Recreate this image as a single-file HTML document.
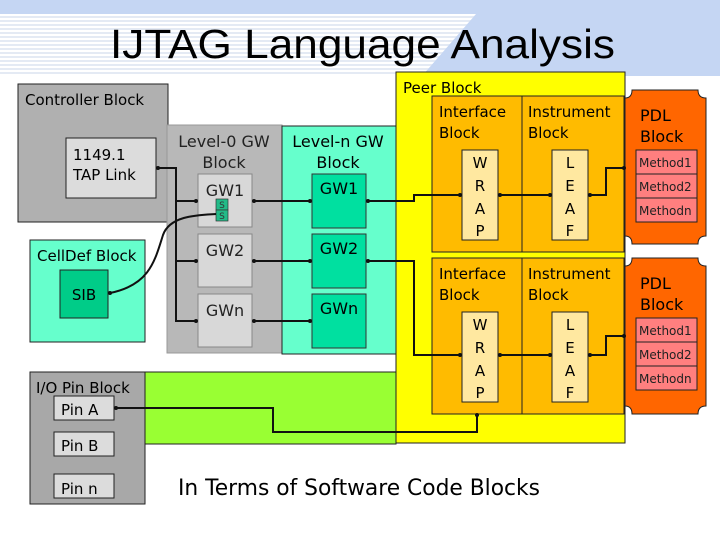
<!DOCTYPE html>
<html><head><meta charset="utf-8"><style>
html,body{margin:0;padding:0;background:#fff}
svg text{font-family:"DejaVu Sans","Liberation Sans",sans-serif}
</style></head><body>
<svg width="720" height="540" viewBox="0 0 720 540" xmlns="http://www.w3.org/2000/svg">
<defs>
<pattern id="st" width="4" height="4" patternUnits="userSpaceOnUse"><rect width="4" height="4" fill="#fff"/><rect width="4" height="2" fill="#e4eaf4"/></pattern>
</defs>
<rect x="0" y="0" width="720" height="76" fill="#c5d6f3"/>
<polygon points="0,14 476,14 422,76 0,76" fill="url(#st)"/>
<text x="110" y="58" font-family="Liberation Sans" font-size="41" style="font-family:'Liberation Sans',sans-serif" textLength="505" lengthAdjust="spacingAndGlyphs">IJTAG Language Analysis</text>

<!-- Controller -->
<rect x="18" y="84" width="150" height="138" fill="#b0b0b0" stroke="#222" stroke-width="1"/>
<text x="25" y="105" font-size="15">Controller Block</text>
<rect x="66" y="138" width="90" height="60" fill="#dcdcdc" stroke="#222"/>
<text x="73" y="160" font-size="15">1149.1</text>
<text x="73" y="180" font-size="15">TAP Link</text>

<!-- Level-0 -->
<rect x="167" y="125" width="115" height="228" fill="#b8b8b8" stroke="#999"/>
<text x="224" y="147" font-size="16" text-anchor="middle" fill="#222">Level-0 GW</text>
<text x="224" y="168" font-size="16" text-anchor="middle" fill="#222">Block</text>
<rect x="198" y="174" width="54" height="53" fill="#d8d8d8" stroke="#888"/>
<rect x="198" y="234" width="54" height="53" fill="#d8d8d8" stroke="#888"/>
<rect x="198" y="294" width="54" height="53" fill="#d8d8d8" stroke="#888"/>
<text x="225" y="196" font-size="16" text-anchor="middle" fill="#222">GW1</text>
<text x="225" y="256" font-size="16" text-anchor="middle" fill="#222">GW2</text>
<text x="225" y="316" font-size="16" text-anchor="middle" fill="#222">GWn</text>
<rect x="216" y="199" width="12" height="11" fill="#22bb88" stroke="#333" stroke-width=".7"/>
<rect x="216" y="210" width="12" height="11" fill="#22bb88" stroke="#333" stroke-width=".7"/>
<text x="222" y="208" font-size="9" text-anchor="middle" fill="#333">S</text>
<text x="222" y="219" font-size="9" text-anchor="middle" fill="#333">S</text>

<!-- Level-n -->
<rect x="282" y="126" width="114" height="228" fill="#66ffcc" stroke="#222"/>
<text x="338" y="147" font-size="16" text-anchor="middle">Level-n GW</text>
<text x="338" y="168" font-size="16" text-anchor="middle">Block</text>
<rect x="312" y="174" width="54" height="54" fill="#00e0a0" stroke="#333"/>
<rect x="312" y="234" width="54" height="54" fill="#00e0a0" stroke="#333"/>
<rect x="312" y="294" width="54" height="54" fill="#00e0a0" stroke="#333"/>
<text x="339" y="194" font-size="16" text-anchor="middle">GW1</text>
<text x="339" y="254" font-size="16" text-anchor="middle">GW2</text>
<text x="339" y="314" font-size="16" text-anchor="middle">GWn</text>

<!-- CellDef -->
<rect x="30" y="240" width="115" height="102" fill="#66ffcc" stroke="#222"/>
<text x="37" y="261" font-size="15">CellDef Block</text>
<rect x="60" y="270" width="48" height="48" fill="#00cc88" stroke="#222"/>
<text x="84" y="300" font-size="15" text-anchor="middle">SIB</text>

<!-- Green strip & IO -->
<rect x="145" y="372" width="251" height="72" fill="#99ff33" stroke="#222"/>
<rect x="30" y="372" width="115" height="132" fill="#a8a8a8" stroke="#222"/>
<text x="36" y="393" font-size="15">I/O Pin Block</text>
<rect x="54" y="396" width="60" height="24" fill="#dcdcdc" stroke="#222"/>
<rect x="54" y="432" width="60" height="24" fill="#dcdcdc" stroke="#222"/>
<rect x="54" y="474" width="60" height="24" fill="#dcdcdc" stroke="#222"/>
<text x="61" y="415" font-size="15">Pin A</text>
<text x="61" y="451" font-size="15">Pin B</text>
<text x="61" y="494" font-size="15">Pin n</text>

<!-- Peer -->
<rect x="396" y="72" width="229" height="371" fill="#ffff00" stroke="#222"/>
<text x="403" y="93" font-size="15">Peer Block</text>
<g stroke="#222" fill="#ffbb00">
<rect x="432" y="96" width="90" height="156"/><rect x="522" y="96" width="102" height="156"/>
<rect x="432" y="258" width="90" height="156"/><rect x="522" y="258" width="102" height="156"/>
</g>
<g font-size="15">
<text x="439" y="117">Interface</text><text x="439" y="138">Block</text>
<text x="528" y="117">Instrument</text><text x="528" y="138">Block</text>
<text x="439" y="279">Interface</text><text x="439" y="300">Block</text>
<text x="528" y="279">Instrument</text><text x="528" y="300">Block</text>
</g>
<g fill="#ffe8a0" stroke="#222">
<rect x="462" y="150" width="36" height="90"/><rect x="552" y="150" width="36" height="90"/>
<rect x="462" y="312" width="36" height="90"/><rect x="552" y="312" width="36" height="90"/>
</g>
<g font-size="15" text-anchor="middle">
<text x="480" y="168">W</text><text x="480" y="191">R</text><text x="480" y="214">A</text><text x="480" y="236">P</text>
<text x="570" y="168">L</text><text x="570" y="191">E</text><text x="570" y="214">A</text><text x="570" y="236">F</text>
<text x="480" y="330">W</text><text x="480" y="353">R</text><text x="480" y="376">A</text><text x="480" y="398">P</text>
<text x="570" y="330">L</text><text x="570" y="353">E</text><text x="570" y="376">A</text><text x="570" y="398">F</text>
</g>

<!-- PDL -->
<g fill="#ff6600" stroke="#222">
<path d="M632,90 H698 Q698,98 706,98 V236 Q698,236 698,244 H632 Q632,236 625,236 V98 Q632,98 632,90 Z"/>
<path d="M632,258 H698 Q698,266 706,266 V406 Q698,406 698,414 H632 Q632,406 625,406 V266 Q632,266 632,258 Z"/>
</g>
<g font-size="16"><text x="640" y="121">PDL</text><text x="640" y="142">Block</text>
<text x="640" y="289">PDL</text><text x="640" y="310">Block</text></g>
<g fill="#ff7f7f" stroke="#222">
<rect x="636" y="150" width="61" height="24"/><rect x="636" y="174" width="61" height="24"/><rect x="636" y="198" width="61" height="24"/>
<rect x="636" y="318" width="61" height="24"/><rect x="636" y="342" width="61" height="24"/><rect x="636" y="366" width="61" height="24"/>
</g>
<g font-size="12" fill="#222">
<text x="639" y="167">Method1</text><text x="639" y="191">Method2</text><text x="639" y="215">Methodn</text>
<text x="639" y="335">Method1</text><text x="639" y="359">Method2</text><text x="639" y="383">Methodn</text>
</g>

<!-- wires -->
<g fill="none" stroke="#111" stroke-width="2">
<path d="M158,168 H176 V321 H196"/>
<path d="M176,201 H196"/><path d="M176,261 H196"/>
<path d="M254,201 H310"/><path d="M254,261 H310"/><path d="M254,321 H310"/>
<path d="M368,201 H414 V195 H460"/>
<path d="M368,261 H414 V355 H460"/>
<path d="M500,195 H550"/><path d="M500,355 H550"/>
<path d="M590,195 H606 V168 H624"/><path d="M590,355 H606 V336 H624"/>
<path d="M110,293 C150,285 155,260 163,235 C170,215 200,215 216,214"/>
<path d="M116,408 H273 V432 H477 V414"/>
</g>
<g fill="#111">
<circle cx="158" cy="168" r="2"/><circle cx="196" cy="201" r="2"/><circle cx="196" cy="261" r="2"/><circle cx="196" cy="321" r="2"/>
<circle cx="254" cy="201" r="2"/><circle cx="254" cy="261" r="2"/><circle cx="254" cy="321" r="2"/>
<circle cx="310" cy="201" r="2"/><circle cx="310" cy="261" r="2"/><circle cx="310" cy="321" r="2"/>
<circle cx="368" cy="201" r="2"/><circle cx="368" cy="261" r="2"/>
<circle cx="460" cy="195" r="2"/><circle cx="460" cy="355" r="2"/><circle cx="500" cy="195" r="2"/><circle cx="500" cy="355" r="2"/>
<circle cx="550" cy="195" r="2"/><circle cx="550" cy="355" r="2"/><circle cx="590" cy="195" r="2"/><circle cx="590" cy="355" r="2"/>
<circle cx="624" cy="168" r="2"/><circle cx="624" cy="336" r="2"/><circle cx="110" cy="293" r="2"/><circle cx="116" cy="408" r="2"/><circle cx="477" cy="415" r="2"/>
</g>

<text x="178" y="495" font-size="22" style="font-family:'DejaVu Sans',sans-serif" textLength="362" lengthAdjust="spacingAndGlyphs">In Terms of Software Code Blocks</text>
</svg>
</body></html>
